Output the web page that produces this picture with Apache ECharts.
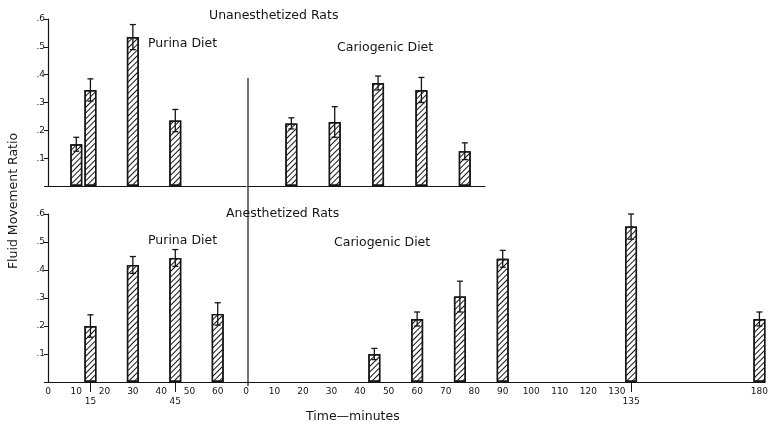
<!DOCTYPE html>
<html>
<head>
<meta charset="utf-8">
<script src="https://cdn.jsdelivr.net/npm/echarts@6/dist/echarts.min.js"></script>
<style>
  html, body { margin: 0; padding: 0; background: #fff; }
  #chart { width: 771px; height: 424px; }
</style>
</head>
<body>
<div id="chart"></div>
<script>
// 上图：未麻醉大鼠
const purinaUnTimes = [10, 15, 30, 45];
const purinaUnValues = [0.15, 0.345, 0.535, 0.235];
const purinaUnErrors = [0.025, 0.04, 0.045, 0.04];
const cariesUnTimes = [15, 30, 45, 60, 75];
const cariesUnValues = [0.225, 0.23, 0.37, 0.345, 0.125];
const cariesUnErrors = [0.02, 0.055, 0.025, 0.045, 0.03];

// 下图：麻醉大鼠
const purinaAnTimes = [15, 30, 45, 60];
const purinaAnValues = [0.2, 0.418, 0.443, 0.243];
const purinaAnErrors = [0.04, 0.03, 0.03, 0.04];
const cariesAnTimes = [45, 60, 75, 90, 135, 180];
const cariesAnValues = [0.1, 0.225, 0.305, 0.44, 0.555, 0.225];
const cariesAnErrors = [0.02, 0.025, 0.055, 0.03, 0.045, 0.025];

// 刻度标签
const purinaLabels = [0, 10, 15, 20, 30, 40, 45, 50, 60];
const cariesLabels = [0, 10, 20, 30, 40, 50, 60, 70, 80, 90, 100, 110, 120, 130, 135, 180];
const lowLabels = [15, 45, 135];

const ink = '#151515';
const font = 'DejaVu Sans';

const chart = echarts.init(document.getElementById('chart'), null, { renderer: 'canvas' });

// 斜线填充
const hatch = {
  symbol: 'rect',
  symbolSize: 1,
  color: ink,
  dashArrayX: [1, 0],
  dashArrayY: [1, 2.6],
  rotation: -Math.PI / 4
};

function barSeries(idx, times, values) {
  return {
    type: 'bar',
    xAxisIndex: idx,
    yAxisIndex: idx,
    barWidth: 12,
    data: times.map((t, i) => [t, values[i]]),
    itemStyle: { color: '#fff', borderColor: ink, borderWidth: 1.4, decal: hatch },
    silent: true
  };
}

function errorItem(params, api) {
  const x = api.value(0), y = api.value(1), e = api.value(2);
  const hi = api.coord([x, y + e]);
  const lo = api.coord([x, y - e]);
  const w = 3;
  const st = { stroke: ink, lineWidth: 1.3 };
  return {
    type: 'group',
    children: [
      { type: 'line', shape: { x1: hi[0], y1: hi[1], x2: lo[0], y2: lo[1] }, style: st },
      { type: 'line', shape: { x1: hi[0] - w, y1: hi[1], x2: hi[0] + w, y2: hi[1] }, style: st },
      { type: 'line', shape: { x1: lo[0] - w, y1: lo[1], x2: lo[0] + w, y2: lo[1] }, style: st }
    ]
  };
}

function errorSeries(idx, times, values, errors) {
  return {
    type: 'custom',
    xAxisIndex: idx,
    yAxisIndex: idx,
    renderItem: errorItem,
    encode: { x: 0, y: 1 },
    data: times.map((t, i) => [t, values[i], errors[i]]),
    z: 5,
    silent: true
  };
}

function xAxis(idx, max, labels, ticks) {
  return {
    type: 'value',
    gridIndex: idx,
    min: 0,
    max: max,
    splitLine: { show: false },
    axisLine: { show: true, onZero: false, lineStyle: { color: ink, width: 1.2 } },
    axisTick: labels ? { show: true, customValues: ticks, length: 10, lineStyle: { color: ink } } : { show: false },
    axisLabel: labels ? {
      show: true,
      customValues: labels,
      margin: 5,
      fontFamily: font,
      fontSize: 9,
      color: ink,
      formatter: v => lowLabels.includes(v) ? '{low|' + v + '}' : String(v),
      rich: { low: { padding: [10, 0, 0, 0], fontFamily: font, fontSize: 9, color: ink } }
    } : { show: false }
  };
}

function yAxis(idx, visible) {
  return {
    type: 'value',
    gridIndex: idx,
    min: 0,
    max: 0.6,
    interval: 0.1,
    show: visible,
    splitLine: { show: false },
    axisLine: { show: true, lineStyle: { color: ink, width: 1.2 } },
    axisTick: { show: true, length: 4, lineStyle: { color: ink } },
    axisLabel: {
      margin: 3,
      fontFamily: font,
      fontSize: 9,
      color: ink,
      formatter: v => v === 0 ? '' : '.' + Math.round(v * 10)
    }
  };
}

function label(text, x, y, size) {
  return {
    type: 'text',
    x: x,
    y: y,
    style: {
      text: text,
      fontFamily: font,
      fontSize: size || 12.5,
      fill: ink,
      textAlign: 'left',
      textVerticalAlign: 'middle'
    },
    z: 10
  };
}

chart.setOption({
  animation: false,
  backgroundColor: '#fff',
  grid: [
    { left: 48, top: 19, width: 198, height: 167 },
    { left: 248, top: 19, width: 237, height: 167 },
    { left: 48, top: 214, width: 198, height: 168 },
    { left: 246, top: 214, width: 525, height: 168 }
  ],
  xAxis: [
    xAxis(0, 70, null),
    xAxis(1, 82, null),
    xAxis(2, 70, purinaLabels, [15, 45]),
    xAxis(3, 182, cariesLabels, [135])
  ],
  yAxis: [
    yAxis(0, true),
    yAxis(1, false),
    yAxis(2, true),
    yAxis(3, false)
  ],
  series: [
    barSeries(0, purinaUnTimes, purinaUnValues),
    errorSeries(0, purinaUnTimes, purinaUnValues, purinaUnErrors),
    barSeries(1, cariesUnTimes, cariesUnValues),
    errorSeries(1, cariesUnTimes, cariesUnValues, cariesUnErrors),
    barSeries(2, purinaAnTimes, purinaAnValues),
    errorSeries(2, purinaAnTimes, purinaAnValues, purinaAnErrors),
    barSeries(3, cariesAnTimes, cariesAnValues),
    errorSeries(3, cariesAnTimes, cariesAnValues, cariesAnErrors)
  ],
  graphic: [
    { type: 'line', shape: { x1: 248, y1: 78, x2: 248, y2: 386 }, style: { stroke: ink, lineWidth: 1.2 }, z: 1 },
    label('Unanesthetized Rats', 209, 16),
    label('Purina Diet', 148, 44),
    label('Cariogenic Diet', 337, 48),
    label('Anesthetized Rats', 226, 214),
    label('Purina Diet', 148, 241),
    label('Cariogenic Diet', 334, 243),
    label('Time\u2014minutes', 306, 417),
    {
      type: 'text',
      x: 14,
      y: 201,
      rotation: Math.PI / 2,
      style: {
        text: 'Fluid Movement Ratio',
        fontFamily: font,
        fontSize: 12.5,
        fill: ink,
        textAlign: 'center',
        textVerticalAlign: 'middle'
      },
      z: 10
    }
  ]
});
</script>
</body>
</html>
